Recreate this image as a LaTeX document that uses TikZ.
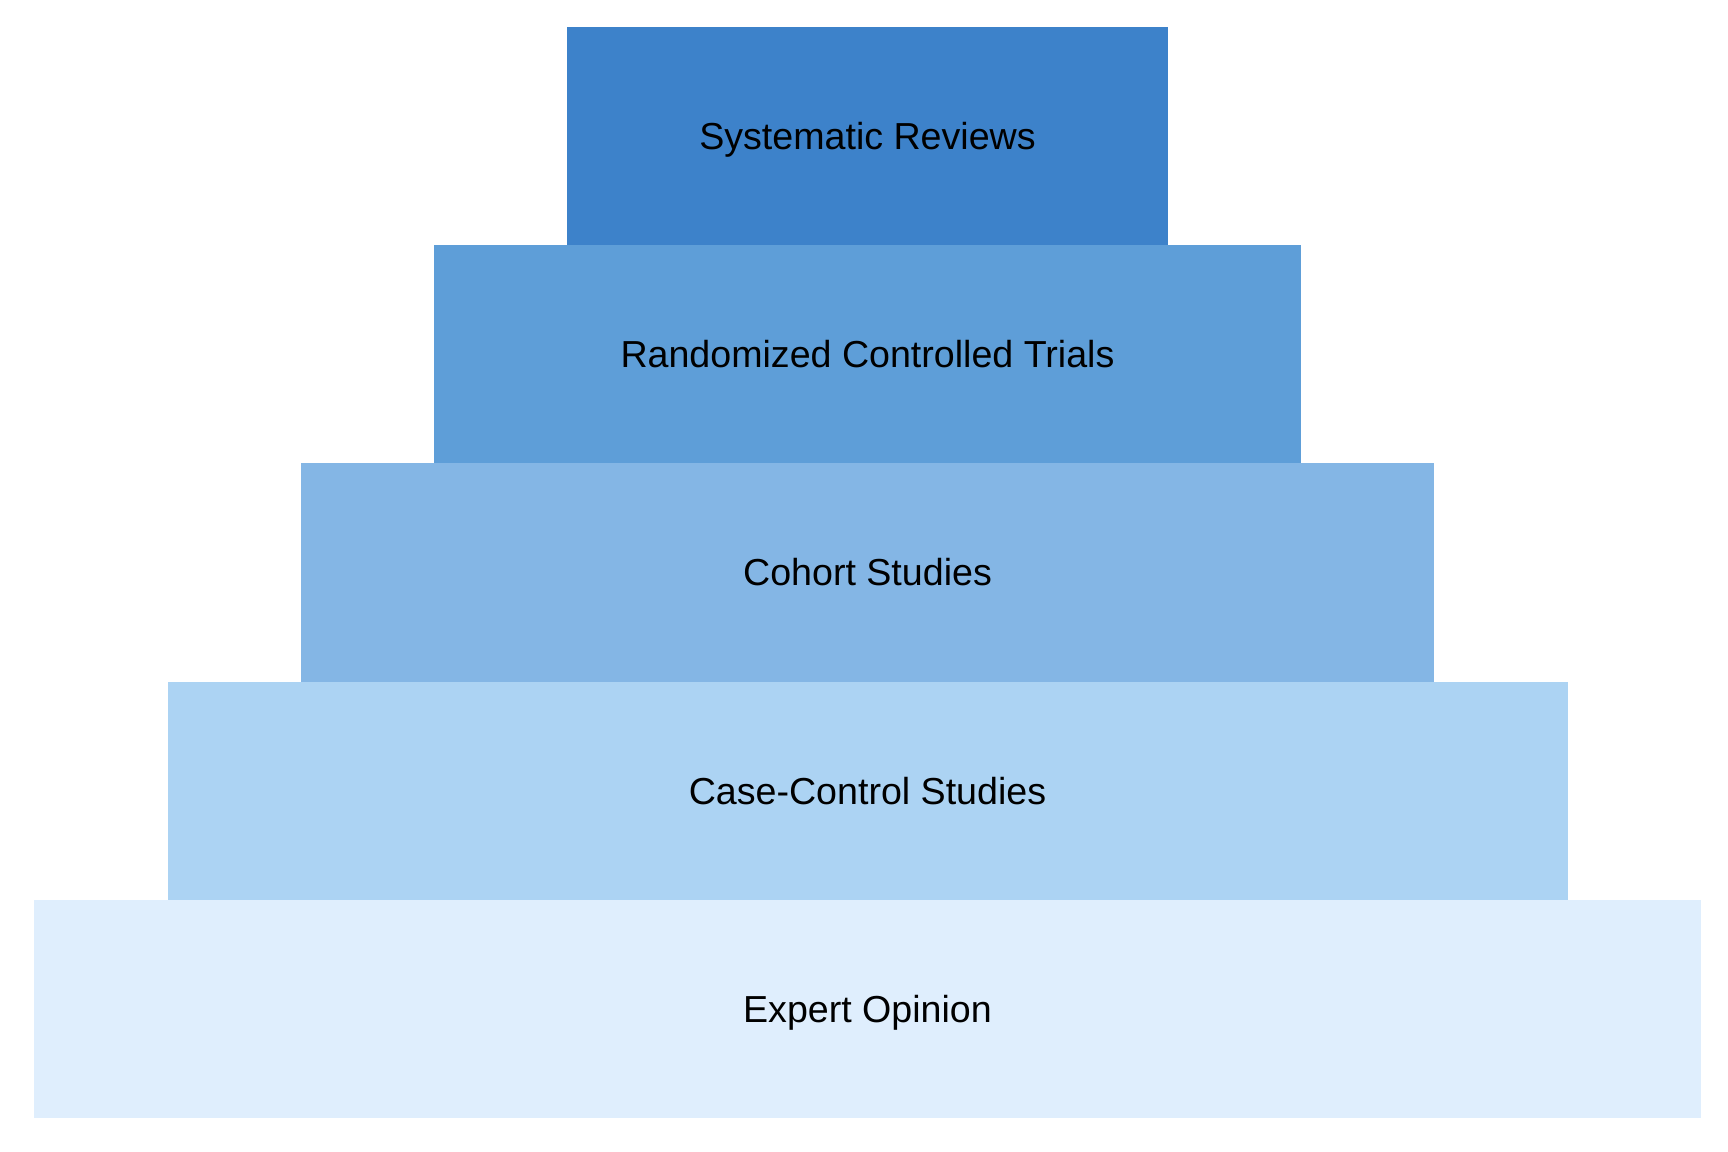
\documentclass[tikz,border=0pt]{standalone}
\usepackage{fontspec}
\setmainfont{Liberation Sans}
\usetikzlibrary{positioning}

\definecolor{sysblue}{RGB}{61,130,202}
\definecolor{rctblue}{RGB}{94,158,216}
\definecolor{cohblue}{RGB}{132,182,229}
\definecolor{ccblue}{RGB}{172,211,243}
\definecolor{expblue}{RGB}{223,238,253}

\tikzset{
  level/.style={rectangle, inner sep=0pt, outer sep=0pt, minimum height=2.182cm,
    text height=7.66pt, text depth=0pt,
    font=\fontsize{10.7}{12}\selectfont, text=black}
}

\begin{document}
\begin{tikzpicture}
            \useasboundingbox (0,0) rectangle (17.28,11.52);

            \node[level, fill=expblue, minimum width=16.67cm, anchor=south] (expert) at (8.675,0.34) {Expert Opinion};
            \node[level, fill=ccblue, minimum width=14.00cm, above=0pt of expert] (casecontrol) {Case-Control Studies};
            \node[level, fill=cohblue, minimum width=11.33cm, above=0pt of casecontrol] (cohort) {Cohort Studies};
            \node[level, fill=rctblue, minimum width=8.67cm, above=0pt of cohort] (rct) {Randomized Controlled Trials};
            \node[level, fill=sysblue, minimum width=6.01cm, above=0pt of rct] (sysrev) {Systematic Reviews};
        \end{tikzpicture}
\end{document}
